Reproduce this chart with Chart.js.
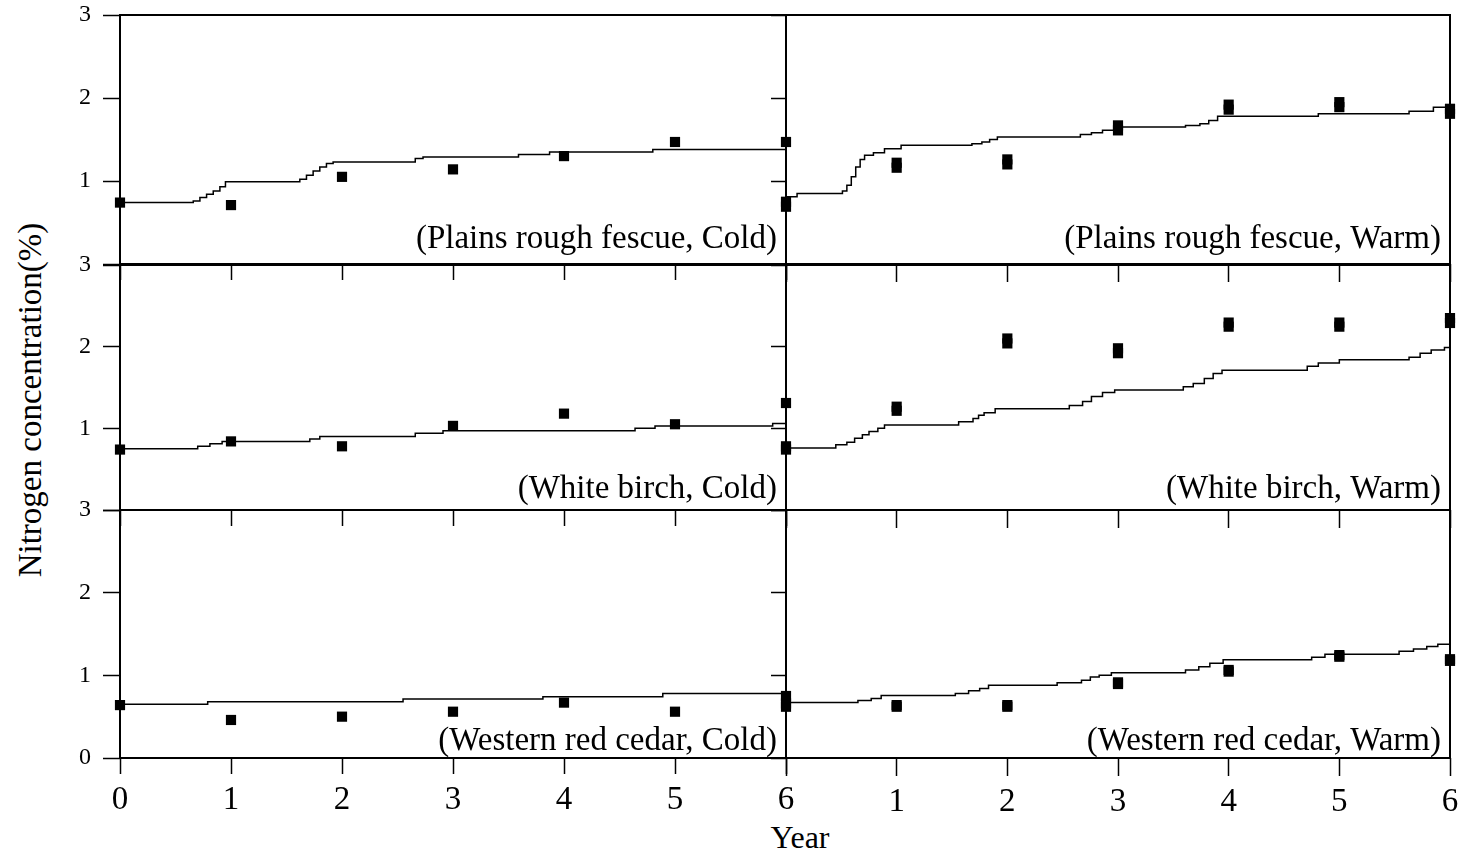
<!DOCTYPE html>
<html>
<head>
<meta charset="utf-8">
<title>Nitrogen concentration</title>
<script src="https://cdn.jsdelivr.net/npm/chart.js@4.4.1/dist/chart.umd.min.js"></script>
<style>
  html, body { margin: 0; padding: 0; background: #fff; }
  #wrap { position: relative; width: 1466px; height: 856px; overflow: hidden;
          font-family: "Liberation Serif", "Times New Roman", serif; color: #000; }
  #wrap canvas { position: absolute; }
  .ytitle { position: absolute; left: 30px; top: 400px; font-size: 33px; white-space: nowrap;
            transform: translate(-50%, -50%) rotate(-90deg); }
  .xtitle { position: absolute; left: 800px; top: 821px; font-size: 32px; line-height: 32px;
            transform: translateX(-50%); }
</style>
</head>
<body>
<div id="wrap">
  <div class="ytitle">Nitrogen concentration(%)</div>
  <div class="xtitle">Year</div>
</div>
<script>
// sampling years
const years = [0, 1, 2, 3, 4, 5, 6];

// measured N (%) - cold site, one sample per year
const obsFescueCold = [0.74, 0.71, 1.05, 1.14, 1.30, 1.47, 1.47];
const obsBirchCold  = [0.74, 0.84, 0.78, 1.03, 1.18, 1.05, 1.31];
const obsCedarCold  = [0.64, 0.46, 0.50, 0.56, 0.67, 0.56, 0.75];

// measured N (%) - warm site, two replicates per year
const obsFescueWarmA = [0.69, 1.16, 1.20, 1.61, 1.86, 1.89, 1.81];
const obsFescueWarmB = [0.75, 1.22, 1.26, 1.67, 1.92, 1.95, 1.87];
const obsBirchWarmA  = [0.74, 1.215, 2.04, 1.92, 2.245, 2.245, 2.29];
const obsBirchWarmB  = [0.78, 1.265, 2.10, 1.98, 2.295, 2.295, 2.35];
const obsCedarWarmA  = [0.62, 0.62, 0.62, 0.895, 1.045, 1.225, 1.175];
const obsCedarWarmB  = [0.66, 0.64, 0.64, 0.915, 1.065, 1.245, 1.195];

// simulated N (%), [year, value] where each step starts
const simFescueCold = [[0,0.74],[0.66,0.76],[0.72,0.80],[0.78,0.84],[0.84,0.88],[0.90,0.93],[0.95,0.99],
  [1.62,1.02],[1.68,1.07],[1.74,1.12],[1.80,1.17],[1.86,1.21],[1.92,1.23],[2.66,1.27],[2.73,1.29],
  [3.59,1.32],[3.87,1.35],[4.80,1.38],[6,1.38]];
const simFescueWarm = [[0,0.81],[0.1,0.85],[0.51,0.88],[0.55,0.95],[0.59,1.05],[0.63,1.17],[0.67,1.26],
  [0.71,1.31],[0.79,1.34],[0.89,1.39],[1.04,1.43],[1.68,1.45],[1.77,1.47],[1.84,1.50],[1.91,1.53],
  [2.66,1.56],[2.76,1.58],[2.86,1.61],[2.97,1.65],[3.61,1.67],[3.74,1.69],[3.82,1.73],[3.90,1.78],
  [4.81,1.81],[5.63,1.84],[5.85,1.89],[6,1.89]];
const simBirchCold = [[0,0.75],[0.70,0.78],[0.81,0.81],[0.92,0.84],[1.71,0.87],[1.80,0.90],[2.66,0.94],
  [2.91,0.97],[4.64,1.00],[4.82,1.03],[5.88,1.06],[6,1.06]];
const simBirchWarm = [[0,0.76],[0.45,0.80],[0.55,0.83],[0.62,0.88],[0.69,0.92],[0.75,0.96],[0.83,1.00],
  [0.89,1.04],[1.56,1.08],[1.69,1.12],[1.74,1.16],[1.79,1.19],[1.89,1.24],[2.56,1.28],[2.68,1.33],
  [2.76,1.39],[2.86,1.44],[2.97,1.47],[3.59,1.51],[3.68,1.55],[3.78,1.61],[3.86,1.67],[3.94,1.71],
  [4.71,1.76],[4.81,1.80],[5.00,1.84],[5.63,1.87],[5.73,1.92],[5.83,1.96],[5.95,1.99],[6,1.99]];
const simCedarCold = [[0,0.65],[0.79,0.68],[2.55,0.715],[3.81,0.74],[4.89,0.78],[6,0.78]];
const simCedarWarm = [[0,0.67],[0.65,0.695],[0.77,0.72],[0.86,0.755],[1.53,0.78],[1.65,0.815],[1.75,0.84],
  [1.83,0.88],[2.45,0.91],[2.67,0.94],[2.75,0.98],[2.83,1.00],[2.94,1.03],[3.61,1.065],[3.73,1.105],
  [3.83,1.145],[3.95,1.19],[4.75,1.22],[4.87,1.255],[5.54,1.29],[5.67,1.32],[5.79,1.35],[5.89,1.375],[6,1.375]];

const panels = [
  { row: 0, col: 0, label: '(Plains rough fescue, Cold)', sim: simFescueCold, obs: [obsFescueCold] },
  { row: 0, col: 1, label: '(Plains rough fescue, Warm)', sim: simFescueWarm, obs: [obsFescueWarmA, obsFescueWarmB] },
  { row: 1, col: 0, label: '(White birch, Cold)', sim: simBirchCold, obs: [obsBirchCold] },
  { row: 1, col: 1, label: '(White birch, Warm)', sim: simBirchWarm, obs: [obsBirchWarmA, obsBirchWarmB] },
  { row: 2, col: 0, label: '(Western red cedar, Cold)', sim: simCedarCold, obs: [obsCedarCold] },
  { row: 2, col: 1, label: '(Western red cedar, Warm)', sim: simCedarWarm, obs: [obsCedarWarmA, obsCedarWarmB] }
];

// page layout (px)
const colX = [[120, 786], [786, 1450]];
const rowY = [[15, 264], [265, 510], [510, 758]];
const labelLift = [16, 12, 8];
const M = { left: 100, right: 24, top: 40, bottom: 70 };

Chart.defaults.font.family = '"Liberation Serif", "Times New Roman", serif';
Chart.defaults.color = '#000';

// box round each panel
const frame = {
  id: 'frame',
  beforeDatasetsDraw(chart) {
    const { ctx, chartArea: a } = chart;
    ctx.save();
    ctx.strokeStyle = '#000';
    ctx.lineWidth = 2;
    ctx.strokeRect(a.left, a.top, a.right - a.left, a.bottom - a.top);
    ctx.restore();
  }
};

// "(species, site)" text in the lower right corner
const panelLabel = {
  id: 'panelLabel',
  afterDraw(chart, args, opts) {
    const { ctx, chartArea: a } = chart;
    ctx.save();
    ctx.font = '33px "Liberation Serif", "Times New Roman", serif';
    ctx.fillStyle = '#000';
    ctx.textAlign = 'right';
    ctx.textBaseline = 'alphabetic';
    ctx.fillText(opts.text, a.right - 9, a.bottom - opts.lift);
    ctx.restore();
  }
};

const wrap = document.getElementById('wrap');

panels.forEach(p => {
  const [l, r] = colX[p.col];
  const [t, b] = rowY[p.row];
  const w = r - l + M.left + M.right;
  const h = b - t + M.top + M.bottom;
  const c = document.createElement('canvas');
  c.width = w; c.height = h;
  c.style.left = (l - M.left) + 'px';
  c.style.top = (t - M.top) + 'px';
  c.style.width = w + 'px';
  c.style.height = h + 'px';
  wrap.appendChild(c);

  const datasets = [{
    data: p.sim.map(([x, y]) => ({ x, y })),
    showLine: true,
    stepped: 'before',
    borderColor: '#000',
    borderWidth: 1.5,
    pointRadius: 0,
    pointHoverRadius: 0,
    clip: false
  }];
  p.obs.forEach(o => {
    datasets.push({
      data: years.map((x, i) => ({ x, y: o[i] })),
      showLine: false,
      pointStyle: 'rect',
      pointRadius: 7.2,
      backgroundColor: '#000',
      borderWidth: 0,
      clip: false
    });
  });

  const bottomRow = p.row === 2;
  const leftCol = p.col === 0;

  new Chart(c, {
    type: 'scatter',
    data: { datasets },
    options: {
      responsive: false,
      animation: false,
      events: [],
      layout: { padding: { top: M.top, right: M.right, left: 0, bottom: 0 } },
      plugins: {
        legend: { display: false },
        tooltip: { enabled: false },
        panelLabel: { text: p.label, lift: labelLift[p.row] }
      },
      scales: {
        x: {
          type: 'linear', min: 0, max: 6,
          afterFit: s => { s.height = M.bottom; },
          border: { display: false },
          grid: { drawOnChartArea: false, drawTicks: true, tickLength: leftCol ? 16 : 18,
                  color: '#000', tickColor: '#000', tickWidth: 1.5 },
          ticks: {
            stepSize: 1, autoSkip: false, maxRotation: 0, padding: 7,
            font: { size: 33 },
            callback: v => (bottomRow && !(p.col === 1 && v === 0)) ? String(v) : ''
          }
        },
        y: {
          type: 'linear', min: 0, max: 3,
          afterFit: s => { s.width = M.left; },
          border: { display: false },
          grid: { drawOnChartArea: false, drawTicks: true, tickLength: leftCol ? 17 : 15,
                  color: '#000', tickColor: '#000', tickWidth: 1.5 },
          ticks: {
            stepSize: 1, padding: 12,
            font: { size: 24 },
            callback: v => (leftCol && (v > 0 || bottomRow)) ? String(v) : ''
          }
        }
      }
    },
    plugins: [frame, panelLabel]
  });
});
</script>
</body>
</html>
